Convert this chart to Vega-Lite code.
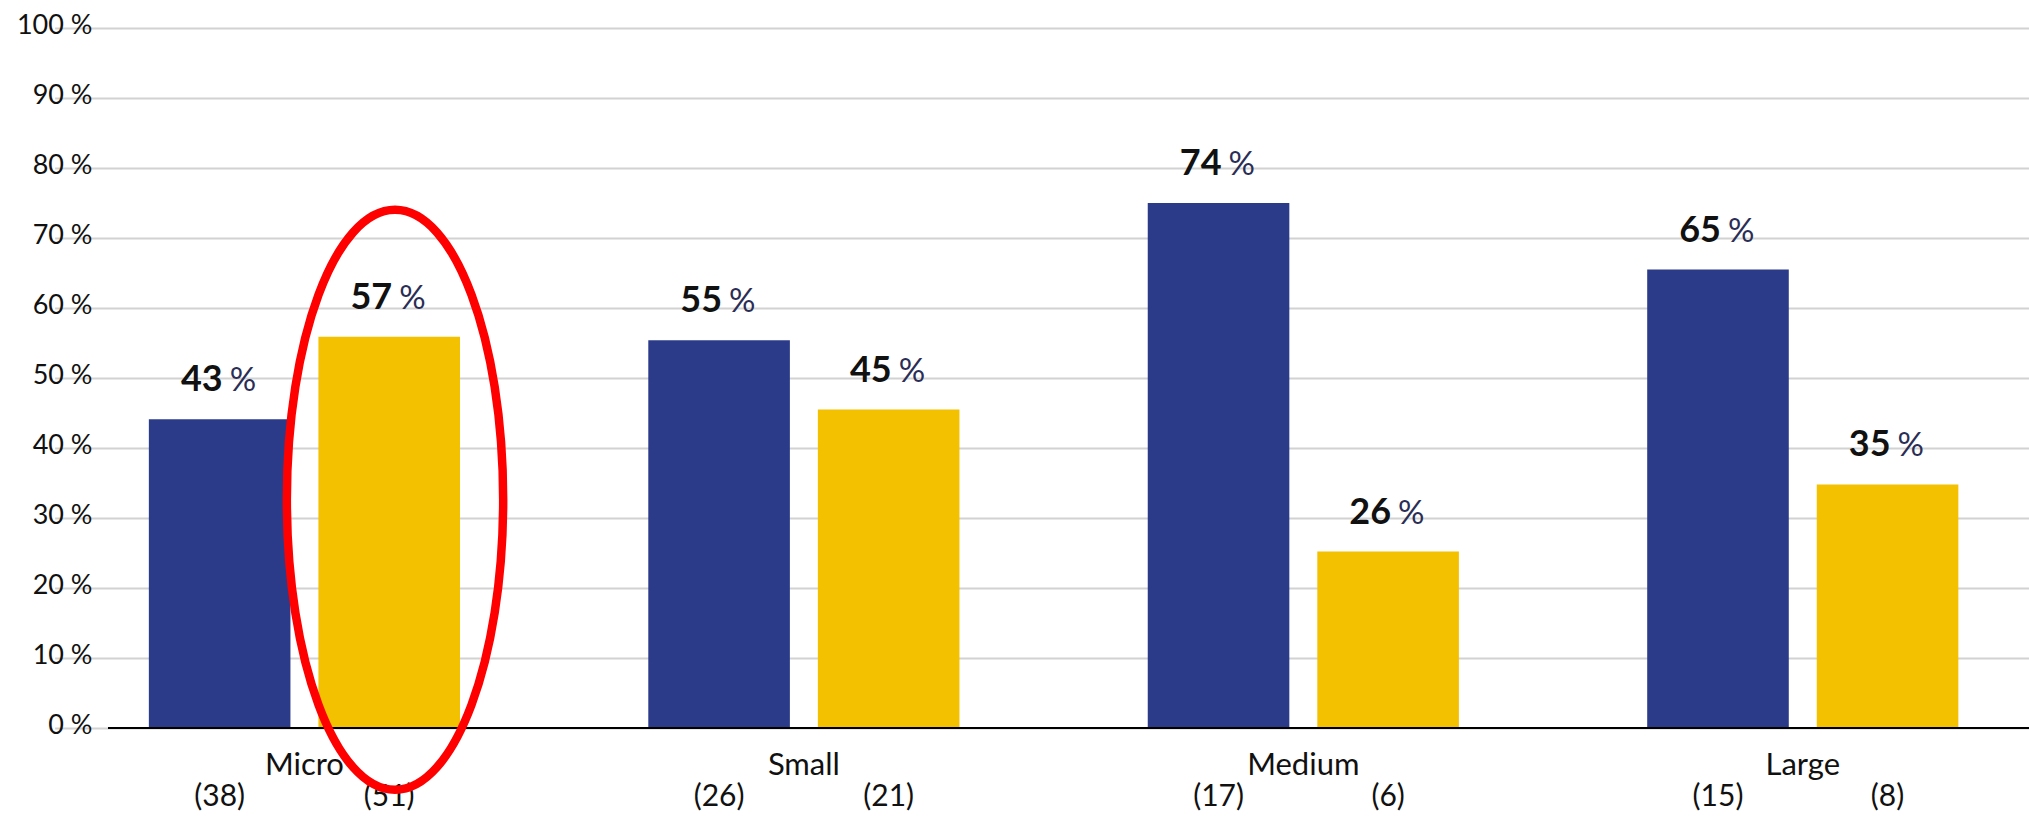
{
  "$schema": "https://vega.github.io/schema/vega-lite/v6.json",
  "width": 1921,
  "height": 700,
  "autosize": "none",
  "padding": {"left": 108, "top": 28, "right": 0, "bottom": 89},
  "background": "white",
  "config": {"view": {"stroke": null}, "font": "Lato"},
  "datasets": {
    "bars": [
      {"size": "Micro", "group": "A", "value": 44.1, "label": "43", "n": "(38)"},
      {"size": "Micro", "group": "B", "value": 55.9, "label": "57", "n": "(51)"},
      {"size": "Small", "group": "A", "value": 55.4, "label": "55", "n": "(26)"},
      {"size": "Small", "group": "B", "value": 45.5, "label": "45", "n": "(21)"},
      {"size": "Medium", "group": "A", "value": 75.0, "label": "74", "n": "(17)"},
      {"size": "Medium", "group": "B", "value": 25.2, "label": "26", "n": "(6)"},
      {"size": "Large", "group": "A", "value": 65.5, "label": "65", "n": "(15)"},
      {"size": "Large", "group": "B", "value": 34.8, "label": "35", "n": "(8)"}
    ],
    "highlight": [
      {"size": "Micro", "group": "B"}
    ]
  },
  "data": {"name": "bars"},
  "layer": [
    {
      "mark": {"type": "bar"},
      "encoding": {
        "x": {
          "field": "size", "type": "nominal",
          "sort": ["Micro", "Small", "Medium", "Large"],
          "scale": {"range": [-53.4, 1944.6], "paddingInner": 0.377, "paddingOuter": 0.1887},
          "axis": {
            "title": null, "labelAngle": 0, "ticks": false, "domain": false,
            "labelFont": "Lato", "labelFontSize": 31, "labelColor": "#111111",
            "labelBaseline": "alphabetic", "labelPadding": 46
          }
        },
        "xOffset": {"field": "group", "type": "nominal", "scale": {"paddingInner": 0.165, "paddingOuter": 0}},
        "y": {
          "field": "value", "type": "quantitative",
          "scale": {"domain": [0, 100], "nice": false},
          "axis": {
            "title": null,
            "values": [0, 10, 20, 30, 40, 50, 60, 70, 80, 90, 100],
            "labelExpr": "datum.value + ' %'",
            "ticks": false, "domain": false,
            "grid": true, "gridColor": "#d2d2d2", "gridWidth": 2,
            "labelFont": "Lato", "labelFontSize": 27, "labelColor": "#111111",
            "labelPadding": 16, "labelBaseline": "alphabetic", "labelOffset": 5
          }
        },
        "color": {
          "field": "group", "type": "nominal",
          "scale": {"domain": ["A", "B"], "range": ["#2b3b8a", "#f4c100"]},
          "legend": null
        }
      }
    },
    {
      "mark": {"type": "rule", "color": "#000000", "strokeWidth": 2},
      "encoding": {"y": {"datum": 0}}
    },
    {
      "mark": {"type": "text", "align": "right", "baseline": "alphabetic", "dx": 3, "dy": -28, "font": "Lato", "fontSize": 36, "fontWeight": "bold", "color": "#111111"},
      "encoding": {
        "x": {"field": "size", "type": "nominal", "sort": ["Micro", "Small", "Medium", "Large"]},
        "xOffset": {"field": "group", "type": "nominal"},
        "y": {"field": "value", "type": "quantitative"},
        "text": {"field": "label"}
      }
    },
    {
      "mark": {"type": "text", "align": "left", "baseline": "alphabetic", "dx": 10, "dy": -28, "font": "Lato", "fontSize": 33, "fontWeight": "normal", "color": "#2a2d55"},
      "encoding": {
        "x": {"field": "size", "type": "nominal", "sort": ["Micro", "Small", "Medium", "Large"]},
        "xOffset": {"field": "group", "type": "nominal"},
        "y": {"field": "value", "type": "quantitative"},
        "text": {"value": "%"}
      }
    },
    {
      "mark": {"type": "text", "align": "center", "baseline": "alphabetic", "dy": 78, "font": "Lato", "fontSize": 30, "color": "#111111"},
      "encoding": {
        "x": {"field": "size", "type": "nominal", "sort": ["Micro", "Small", "Medium", "Large"]},
        "xOffset": {"field": "group", "type": "nominal"},
        "y": {"datum": 0},
        "text": {"field": "n"}
      }
    },
    {
      "data": {"name": "highlight"},
      "mark": {
        "type": "point", "filled": false, "stroke": "#ff0000", "strokeWidth": 8.5, "opacity": 1,
        "size": 336400,
        "shape": "M -0.353,0 A 0.373,1 0 1,0 0.393,0 A 0.373,1 0 1,0 -0.353,0 Z"
      },
      "encoding": {
        "x": {"field": "size", "type": "nominal", "sort": ["Micro", "Small", "Medium", "Large"]},
        "xOffset": {"field": "group", "type": "nominal"},
        "y": {"datum": 32.6}
      }
    }
  ]
}
